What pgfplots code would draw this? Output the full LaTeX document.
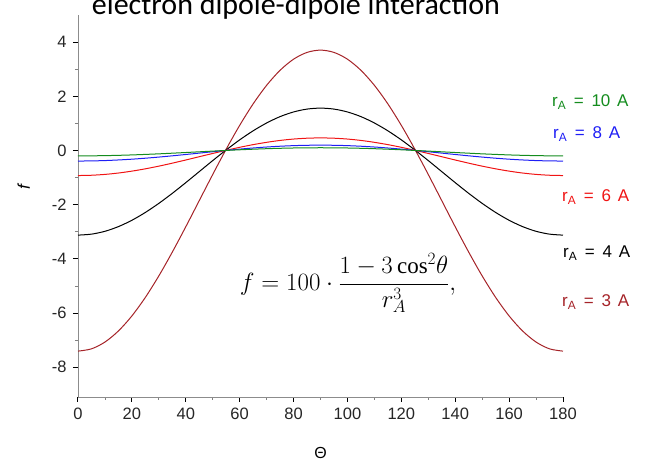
\documentclass[border=0pt]{standalone}
\usepackage{fontspec}
\setmainfont{Liberation Sans}
\newfontfamily\titlefont{Carlito}
\newfontfamily\serif{Liberation Serif}
\usepackage{pgfplots}
\pgfplotsset{compat=1.18}

\definecolor{cThree}{RGB}{165,35,40}
\definecolor{cSix}{RGB}{240,20,20}
\definecolor{cEight}{RGB}{30,30,245}
\definecolor{cTen}{RGB}{20,140,30}

% f = 100 (1 - 3 cos^2 theta) / r^3, read at 5 degree steps
\pgfplotstableread{
t    r3      r4      r6      r8      r10
0   -7.407  -3.125  -0.926  -0.391  -0.200
5   -7.323  -3.089  -0.915  -0.386  -0.198
10  -7.072  -2.984  -0.884  -0.373  -0.191
15  -6.663  -2.811  -0.833  -0.351  -0.180
20  -6.108  -2.577  -0.763  -0.322  -0.165
25  -5.423  -2.288  -0.678  -0.286  -0.146
30  -4.630  -1.953  -0.579  -0.244  -0.125
35  -3.752  -1.583  -0.469  -0.198  -0.101
40  -2.817  -1.188  -0.352  -0.149  -0.076
45  -1.852  -0.781  -0.231  -0.098  -0.050
50  -0.887  -0.374  -0.111  -0.047  -0.024
55   0.048   0.020   0.006   0.003   0.001
60   0.926   0.391   0.116   0.049   0.025
65   1.719   0.725   0.215   0.091   0.046
70   2.404   1.014   0.300   0.127   0.065
75   2.959   1.249   0.370   0.156   0.080
80   3.369   1.421   0.421   0.178   0.091
85   3.619   1.527   0.452   0.191   0.098
90   3.704   1.563   0.463   0.195   0.100
95   3.619   1.527   0.452   0.191   0.098
100  3.369   1.421   0.421   0.178   0.091
105  2.959   1.249   0.370   0.156   0.080
110  2.404   1.014   0.300   0.127   0.065
115  1.719   0.725   0.215   0.091   0.046
120  0.926   0.391   0.116   0.049   0.025
125  0.048   0.020   0.006   0.003   0.001
130 -0.887  -0.374  -0.111  -0.047  -0.024
135 -1.852  -0.781  -0.231  -0.098  -0.050
140 -2.817  -1.188  -0.352  -0.149  -0.076
145 -3.752  -1.583  -0.469  -0.198  -0.101
150 -4.630  -1.953  -0.579  -0.244  -0.125
155 -5.423  -2.288  -0.678  -0.286  -0.146
160 -6.108  -2.577  -0.763  -0.322  -0.165
165 -6.663  -2.811  -0.833  -0.351  -0.180
170 -7.072  -2.984  -0.884  -0.373  -0.191
175 -7.323  -3.089  -0.915  -0.386  -0.198
180 -7.407  -3.125  -0.926  -0.391  -0.200
}\fdata

\newcommand\rA[1]{r\textsubscript{A}\hspace{0.45em}=\hspace{0.45em}#1\hspace{0.4em}A}

\begin{document}
\begin{tikzpicture}
\begin{axis}[
    scale only axis,
    width=485pt, height=382pt,
    xmin=0, xmax=180, ymin=-9.1, ymax=5,
    axis lines*=left,
    axis line style={black!45, line width=0.8pt},
    xtick={0,20,...,180}, ytick={-8,-6,...,4},
    minor x tick num=1, minor y tick num=1,
    tick align=outside,
    major tick length=5pt, minor tick length=3pt,
    tick style={black, line width=1pt},
    minor tick style={black!50, line width=0.8pt},
    ticklabel style={font=\fontsize{16.5}{18}\selectfont, text=black!85},
    xticklabel style={yshift=-2pt},
    yticklabel style={xshift=-3pt},
    /pgf/number format/assume math mode=true,
    xlabel={Θ},
    ylabel={\itshape f},
    xlabel style={font=\fontsize{16}{18}\selectfont, at={(ticklabel cs:0.5)}, yshift=-21pt},
    ylabel style={font=\fontsize{17}{19}\selectfont, at={(ticklabel cs:0.55)}, yshift=15pt},
    clip=false,
    every axis plot/.append style={line width=1pt, smooth, no marks},
]
\addplot[cThree] table[x=t, y=r3] {\fdata};
\addplot[black] table[x=t, y=r4] {\fdata};
\addplot[cSix] table[x=t, y=r6] {\fdata};
\addplot[cEight] table[x=t, y=r8] {\fdata};
\addplot[cTen] table[x=t, y=r10] {\fdata};
\end{axis}

\begin{scope}[every node/.style={anchor=west, font=\fontsize{17}{19}\selectfont, inner sep=0pt}]
\node[text=cTen] at (474pt,295pt) {\rA{10}};
\node[text=cEight] at (475pt,263pt) {\rA{8}};
\node[text=cSix] at (484pt,200pt) {\rA{6}};
\node[text=black] at (485pt,144pt) {\rA{4}};
\node[text=cThree] at (484pt,95pt) {\rA{3}};
\end{scope}

\node[font=\fontsize{23}{26}\selectfont] at (270pt,114pt)
  {$\displaystyle f = 100\cdot\frac{1-3\,\mbox{\serif cos}^2\theta}{r_A^3},$};

\node[anchor=base, font=\titlefont\fontsize{30}{33}\selectfont] at (218pt,382pt)
  {electron dipole-dipole interaction};

\pgfresetboundingbox
\path[use as bounding box] (-78pt,-65pt) rectangle (568pt,397pt);
\end{tikzpicture}
\end{document}
